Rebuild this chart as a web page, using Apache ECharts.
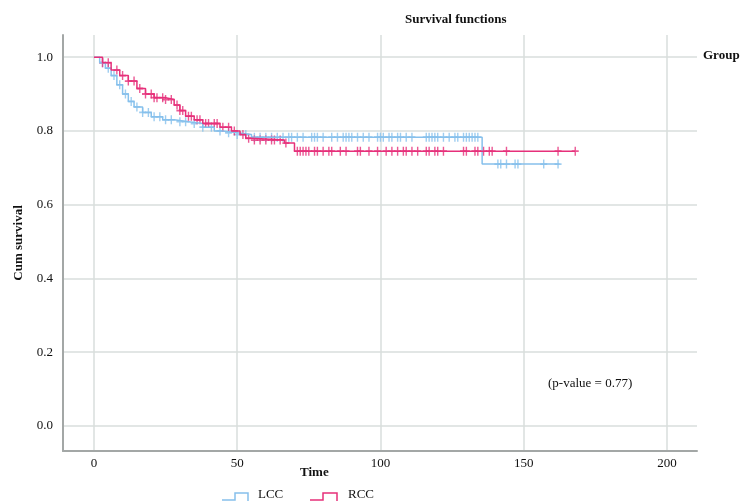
<!DOCTYPE html>
<html>
<head>
<meta charset="utf-8">
<title>Survival functions</title>
<script src="https://cdn.jsdelivr.net/npm/echarts@6/dist/echarts.min.js"></script>
<style>
    html, body { margin: 0; padding: 0; background: #fff; }
    #chart { width: 742px; height: 501px; }
</style>
</head>
<body>
<div id="chart"></div>
<script>
    // Kaplan-Meier steps: survival from each time on
    var lccTime = [0, 2, 4, 6, 8, 10, 12, 14, 17, 20, 24, 28, 33, 38, 42, 45, 50, 55, 135.5];
    var lccSurv = [1, 0.985, 0.97, 0.95, 0.925, 0.9, 0.88, 0.865, 0.85, 0.838, 0.83, 0.825, 0.82, 0.81, 0.80, 0.795, 0.79, 0.783, 0.71];
    var lccEnd = 162.5;
    var lccCensor = [3, 5, 7, 9, 11, 13, 15, 17, 19, 21, 23, 25, 27, 30, 32, 35, 38, 41, 44, 47, 50, 53, 56, 58, 60, 62,
        64, 66, 68, 69, 71, 73, 76, 77, 78, 80, 83, 85, 87, 88, 89, 90, 92, 94, 96, 99, 100, 101, 103, 104, 106, 107,
        109, 111, 116, 117, 118, 119, 120, 122, 124, 126, 127, 129, 130, 131, 132, 133, 134,
        141, 142, 144, 147, 148, 157, 162];

    var rccTime = [0, 3, 6, 9, 12, 15, 18, 21, 25, 28, 30, 32, 35, 38, 44, 48, 51, 53, 55, 66.5, 70];
    var rccSurv = [1, 0.985, 0.965, 0.95, 0.935, 0.915, 0.90, 0.89, 0.885, 0.87, 0.855, 0.84, 0.83, 0.82, 0.81, 0.80, 0.79, 0.78, 0.775, 0.767, 0.745];
    var rccEnd = 168;
    var rccCensor = [3, 5, 8, 10, 12, 14, 16, 18, 20, 21, 22, 24, 25, 27, 29, 30, 31, 33, 34, 36, 37, 39, 40, 42, 43, 45,
        47, 49, 52, 54, 56, 58, 60, 62, 63, 65, 67,
        71, 72, 73, 74, 75, 77, 78, 80, 82, 83, 86, 88, 92, 93, 96, 99, 102, 104, 106, 108, 109, 111, 113, 116, 117,
        119, 120, 122, 129, 130, 133, 134, 136, 138, 139, 144, 162, 168];

    var lccColor = '#86c0ec';
    var rccColor = '#e6307a';
    var font = 'Liberation Serif';
    var textColor = '#111';
    var crossIcon = 'path://M4,0 L6,0 L6,4 L10,4 L10,6 L6,6 L6,10 L4,10 L4,6 L0,6 L0,4 L4,4 Z';

    function stepData(times, surv, end) {
        var d = [];
        for (var i = 0; i < times.length; i++) d.push([times[i], surv[i]]);
        d.push([end, surv[surv.length - 1]]);
        return d;
    }
    function survAt(times, surv, t) {
        var s = surv[0];
        for (var i = 0; i < times.length; i++) if (times[i] <= t) s = surv[i];
        return s;
    }
    function censorData(c, times, surv) {
        return c.map(function (t) { return [t, survAt(times, surv, t)]; });
    }

    var chart = echarts.init(document.getElementById('chart'));
    chart.setOption({
        animation: false,
        title: [
            { text: 'Survival functions', left: 400, top: 8,
              textStyle: { fontFamily: font, fontSize: 13, fontWeight: 'bold', color: textColor } },
            { text: 'Group', left: 698, top: 44,
              textStyle: { fontFamily: font, fontSize: 13, fontWeight: 'bold', color: textColor } },
            { text: '(p-value = 0.77)', left: 543, top: 372,
              textStyle: { fontFamily: font, fontSize: 13, fontWeight: 'normal', color: textColor } },
            { text: 'Time', left: 295, top: 461,
              textStyle: { fontFamily: font, fontSize: 13, fontWeight: 'bold', color: textColor } }
        ],
        grid: { left: 63, right: 45, top: 35, bottom: 50 },
        xAxis: {
            type: 'value', min: -10.8, max: 210.5, splitNumber: 4,
            axisLine: { show: true, onZero: false, lineStyle: { color: '#a3a7a6', width: 2 } },
            axisTick: { show: false },
            axisLabel: { showMinLabel: false, showMaxLabel: false, margin: 6,
                         fontFamily: font, fontSize: 13, color: textColor },
            splitLine: { show: true, showMinLine: false, showMaxLine: false,
                         lineStyle: { color: '#d8dedc', width: 1.5 } }
        },
        yAxis: {
            type: 'value', min: -0.068, max: 1.06, splitNumber: 5,
            name: 'Cum survival', nameLocation: 'middle', nameRotate: 90, nameGap: 38,
            nameTextStyle: { fontFamily: font, fontSize: 13, fontWeight: 'bold', color: textColor },
            axisLine: { show: true, onZero: false, lineStyle: { color: '#a3a7a6', width: 2 } },
            axisTick: { show: false },
            axisLabel: { showMinLabel: false, showMaxLabel: false, margin: 10,
                         fontFamily: font, fontSize: 13, color: textColor,
                         formatter: function (v) { return v.toFixed(1); } },
            splitLine: { show: true, showMinLine: false, showMaxLine: false,
                         lineStyle: { color: '#d8dedc', width: 1.5 } }
        },
        series: [
            { name: 'LCC', type: 'line', step: 'end', showSymbol: false,
              lineStyle: { color: lccColor, width: 1.5 },
              data: stepData(lccTime, lccSurv, lccEnd) },
            { name: 'LCC censored', type: 'scatter', symbol: crossIcon, symbolSize: [7, 9],
              itemStyle: { color: lccColor },
              data: censorData(lccCensor, lccTime, lccSurv) },
            { name: 'RCC', type: 'line', step: 'end', showSymbol: false,
              lineStyle: { color: rccColor, width: 1.5 },
              data: stepData(rccTime, rccSurv, rccEnd) },
            { name: 'RCC censored', type: 'scatter', symbol: crossIcon, symbolSize: [7, 9],
              itemStyle: { color: rccColor },
              data: censorData(rccCensor, rccTime, rccSurv) }
        ],
        graphic: [
            { type: 'polyline', shape: { points: [[222, 500], [235, 500], [235, 493], [248, 493], [248, 501]] },
              style: { stroke: lccColor, fill: null, lineWidth: 1.5 } },
            { type: 'text', left: 258, top: 488,
              style: { text: 'LCC', font: '13px "Liberation Serif"', fill: textColor } },
            { type: 'polyline', shape: { points: [[310, 500], [323, 500], [323, 493], [337, 493], [337, 501]] },
              style: { stroke: rccColor, fill: null, lineWidth: 1.5 } },
            { type: 'text', left: 348, top: 488,
              style: { text: 'RCC', font: '13px "Liberation Serif"', fill: textColor } }
        ]
    });
</script>
</body>
</html>
